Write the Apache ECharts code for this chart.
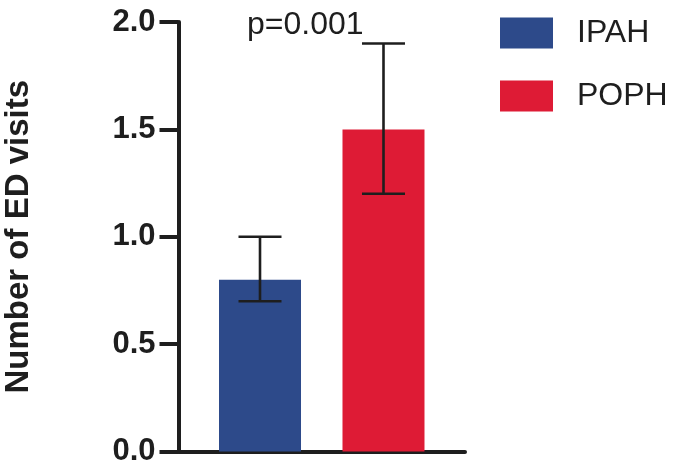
<!DOCTYPE html>
<html>
<head>
<meta charset="utf-8">
<script src="https://cdn.jsdelivr.net/npm/echarts@6/dist/echarts.min.js"></script>
<style>html,body{margin:0;padding:0;background:#fff;}#c{width:680px;height:469px;}</style>
</head>
<body>
<div id="c"></div>
<script>
const groups = ['IPAH', 'POPH'];
const groupX = [1, 2];
const means = [0.8, 1.5];
const errLow = [0.7, 1.2];
const errHigh = [1.0, 1.9];
const yTicks = [0.0, 0.5, 1.0, 1.5, 2.0];
const colors = ['#2d4a8a', '#de1b35'];
const pText = 'p=0.001';

const FONT = '"Liberation Sans", Arial, Helvetica, sans-serif';
const INK = '#1e1e1e';

const chart = echarts.init(document.getElementById('c'));

const barSeries = groups.map((g, i) => ({
  name: g,
  type: 'bar',
  barWidth: 82,
  barGap: '-100%',
  itemStyle: { color: colors[i] },
  data: [[groupX[i], means[i]]],
  z: 2
}));

const errSeries = {
  type: 'custom',
  z: 5,
  silent: true,
  data: groups.map((g, i) => [groupX[i], errLow[i], errHigh[i]]),
  renderItem: function (params, api) {
    const x = api.value(0);
    const lo = api.coord([x, api.value(1)]);
    const hi = api.coord([x, api.value(2)]);
    const half = 21.5;
    const style = { stroke: INK, lineWidth: 2.6 };
    return {
      type: 'group',
      children: [
        { type: 'line', shape: { x1: lo[0], y1: lo[1], x2: hi[0], y2: hi[1] }, style: style },
        { type: 'line', shape: { x1: lo[0] - half, y1: lo[1], x2: lo[0] + half, y2: lo[1] }, style: style },
        { type: 'line', shape: { x1: hi[0] - half, y1: hi[1], x2: hi[0] + half, y2: hi[1] }, style: style }
      ]
    };
  }
};

chart.setOption({
  animation: false,
  backgroundColor: '#fff',
  grid: { left: 178.5, right: 215, top: 22, bottom: 17.5, containLabel: false },
  legend: {
    data: groups,
    orient: 'vertical',
    left: 500,
    top: 17,
    itemWidth: 53,
    itemHeight: 31,
    itemGap: 31,
    icon: 'rect',
    padding: 0,
    textStyle: { fontFamily: FONT, fontSize: 32, color: INK, padding: [0, 0, 0, 19] }
  },
  graphic: [{
    type: 'text',
    left: 247,
    top: 9,
    style: { text: pText, font: '32px ' + FONT, fill: INK }
  }],
  xAxis: {
    type: 'value',
    min: 0.34,
    max: 2.66,
    axisLine: { show: true, onZero: false, lineStyle: { color: INK, width: 4 } },
    axisTick: { show: false },
    axisLabel: { show: false },
    splitLine: { show: false }
  },
  yAxis: {
    type: 'value',
    min: 0,
    max: 2,
    interval: 0.5,
    name: 'Number of ED visits',
    nameLocation: 'middle',
    nameGap: 143,
    nameTextStyle: { fontFamily: FONT, fontSize: 33, fontWeight: 'bold', color: INK },
    axisLine: { show: true, lineStyle: { color: INK, width: 4 } },
    axisTick: { show: true, length: 19, lineStyle: { color: INK, width: 4 } },
    axisLabel: {
      margin: 23,
      fontFamily: FONT, fontSize: 31, fontWeight: 'bold', color: INK,
      formatter: v => (yTicks.indexOf(v) >= 0 ? v.toFixed(1) : '')
    },
    splitLine: { show: false }
  },
  series: barSeries.concat([errSeries])
});
</script>
</body>
</html>
